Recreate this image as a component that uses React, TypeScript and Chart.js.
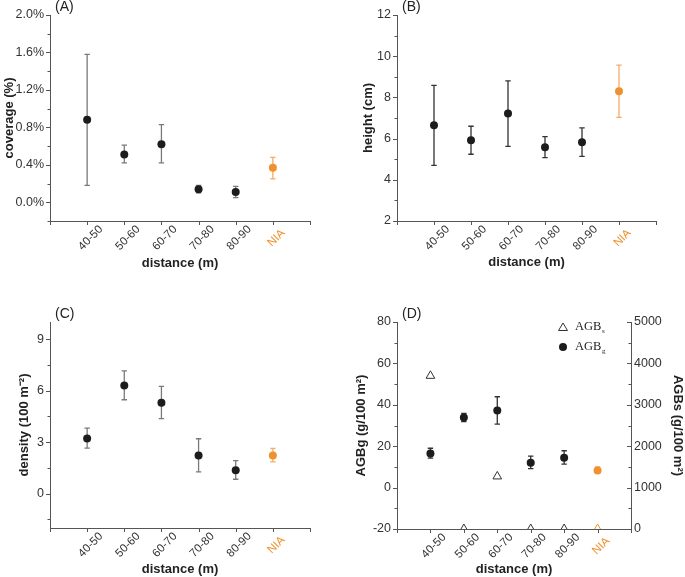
import { useEffect, useRef } from 'react';
import { Chart, registerables } from 'chart.js';

Chart.register(...registerables);

// ---------- data ----------
const categories = ['40-50', '50-60', '60-70', '70-80', '80-90', 'NIA'];

const coverageMean = [0.88, 0.51, 0.62, 0.14, 0.11, 0.37];
const coverageLow = [0.18, 0.42, 0.42, 0.1, 0.05, 0.25];
const coverageHigh = [1.58, 0.61, 0.83, 0.18, 0.17, 0.48];
const coverageTicks = [0, 0.4, 0.8, 1.2, 1.6, 2.0];

const heightMean = [6.65, 5.92, 7.22, 5.58, 5.82, 8.3];
const heightLow = [4.7, 5.24, 5.62, 5.08, 5.14, 7.03];
const heightHigh = [8.58, 6.6, 8.8, 6.1, 6.52, 9.57];
const heightTicks = [2, 4, 6, 8, 10, 12];

const densityMean = [3.22, 6.3, 5.3, 2.22, 1.37, 2.23];
const densityLow = [2.65, 5.47, 4.37, 1.27, 0.84, 1.85];
const densityHigh = [3.82, 7.15, 6.25, 3.2, 1.93, 2.64];
const densityTicks = [0, 3, 6, 9];

const agbgMean = [16.5, 33.9, 37.3, 12.0, 14.4, 8.3];
const agbgLow = [14.2, 31.9, 30.7, 9.2, 11.3, 7.0];
const agbgHigh = [19.0, 35.9, 43.9, 15.2, 17.8, 10.0];
const agbgTicks = [-20, 0, 20, 40, 60, 80];

const agbsValues = [3700, 0, 1270, 0, 0, 0];
const agbsTicks = [0, 1000, 2000, 3000, 4000, 5000];

// ---------- styles ----------
const FONT = '"Liberation Sans", Arial, sans-serif';
const SERIF = '"Liberation Serif", "Times New Roman", serif';
const DARK = '#1c1c1c';
const ORANGE = '#f0912f';
const ORANGE_LIGHT = '#f4ad6a';
const AXIS = '#555555';
const TEXT = '#222222';

const xPositions = categories.map((_, i) => i + 1);
const pointColors = categories.map((c) => (c === 'NIA' ? ORANGE : DARK));

type Bars = { mean: number[]; low: number[]; high: number[]; color: string; yAxisID: string };

function errorBarsPlugin(bars: Bars) {
  return {
    id: 'errorBars',
    beforeDatasetsDraw(chart: any) {
      const ctx = chart.ctx;
      const xs = chart.scales.x;
      const ys = chart.scales[bars.yAxisID];
      ctx.save();
      ctx.lineWidth = 1.3;
      bars.low.forEach((lo: number, i: number) => {
        const x = xs.getPixelForValue(xPositions[i]);
        const y1 = ys.getPixelForValue(lo);
        const y2 = ys.getPixelForValue(bars.high[i]);
        ctx.strokeStyle = categories[i] === 'NIA' ? ORANGE_LIGHT : bars.color;
        ctx.beginPath();
        ctx.moveTo(x, y1);
        ctx.lineTo(x, y2);
        ctx.moveTo(x - 2.7, y1);
        ctx.lineTo(x + 2.7, y1);
        ctx.moveTo(x - 2.7, y2);
        ctx.lineTo(x + 2.7, y2);
        ctx.stroke();
      });
      ctx.restore();
    },
  };
}

type AxisMarks = { [id: string]: { minorStep?: number; major: number; minor: number } };

function tickMarksPlugin(spec: AxisMarks) {
  return {
    id: 'tickMarks',
    afterDraw(chart: any) {
      const ctx = chart.ctx;
      const area = chart.chartArea;
      ctx.save();
      ctx.strokeStyle = AXIS;
      ctx.lineWidth = 1;
      Object.keys(spec).forEach((id) => {
        const s = chart.scales[id];
        if (!s) return;
        const sp = spec[id];
        const majors: number[] = s.ticks.map((t: any) => t.value);
        const minors: number[] = [];
        if (sp.minorStep) {
          const k0 = Math.ceil(s.min / sp.minorStep - 1e-9);
          const k1 = Math.floor(s.max / sp.minorStep + 1e-9);
          for (let k = k0; k <= k1; k++) {
            const v = k * sp.minorStep;
            if (!majors.some((m) => Math.abs(m - v) < 1e-6)) minors.push(v);
          }
        }
        const draw = (v: number, len: number) => {
          const p = Math.round(s.getPixelForValue(v)) + 0.5;
          ctx.beginPath();
          if (s.axis === 'x') {
            const y = area.bottom;
            ctx.moveTo(p, y);
            ctx.lineTo(p, y + len);
          } else if (s.position === 'left') {
            const x = area.left;
            ctx.moveTo(x, p);
            ctx.lineTo(x - len, p);
          } else {
            const x = area.right;
            ctx.moveTo(x, p);
            ctx.lineTo(x - len, p);
          }
          ctx.stroke();
        };
        majors.forEach((v) => draw(v, sp.major));
        minors.forEach((v) => draw(v, sp.minor));
      });
      ctx.restore();
    },
  };
}

function labelsPlugin(panelLabel: string) {
  return {
    id: 'labels',
    afterDraw(chart: any) {
      const ctx = chart.ctx;
      const area = chart.chartArea;
      const xs = chart.scales.x;
      ctx.save();
      // rotated category labels
      ctx.font = `11.5px ${FONT}`;
      ctx.textAlign = 'center';
      ctx.textBaseline = 'middle';
      categories.forEach((c, i) => {
        const px = xs.getPixelForValue(xPositions[i]);
        ctx.save();
        ctx.translate(px + 3.5, area.bottom + 17);
        ctx.rotate(-Math.PI / 4);
        ctx.fillStyle = c === 'NIA' ? ORANGE : '#333333';
        ctx.fillText(c, 0, 0);
        ctx.restore();
      });
      // panel label
      ctx.font = `14px ${FONT}`;
      ctx.textAlign = 'left';
      ctx.fillStyle = TEXT;
      ctx.fillText(panelLabel, area.left + 5, area.top - 8);
      ctx.restore();
    },
  };
}

function legendPlugin() {
  return {
    id: 'agbLegend',
    afterDraw(chart: any) {
      const ctx = chart.ctx;
      const area = chart.chartArea;
      const mx = area.left + 166;
      const y1 = area.top + 5;
      const y2 = area.top + 25;
      ctx.save();
      // triangle
      ctx.strokeStyle = '#333333';
      ctx.lineWidth = 1;
      ctx.beginPath();
      ctx.moveTo(mx, y1 - 4);
      ctx.lineTo(mx + 4.5, y1 + 3.5);
      ctx.lineTo(mx - 4.5, y1 + 3.5);
      ctx.closePath();
      ctx.stroke();
      // circle
      ctx.fillStyle = DARK;
      ctx.beginPath();
      ctx.arc(mx, y2, 4, 0, Math.PI * 2);
      ctx.fill();
      // text
      ctx.fillStyle = TEXT;
      ctx.textBaseline = 'middle';
      ctx.textAlign = 'left';
      const tx = mx + 12;
      ctx.font = `12.5px ${SERIF}`;
      const w = ctx.measureText('AGB').width;
      ctx.fillText('AGB', tx, y1);
      ctx.fillText('AGB', tx, y2);
      ctx.font = `7px ${SERIF}`;
      ctx.fillText('s', tx + w + 0.5, y1 + 4);
      ctx.fillText('g', tx + w + 0.5, y2 + 4);
      ctx.restore();
    },
  };
}

type PanelSpec = {
  key: string;
  label: string;
  left: number;
  top: number;
  w: number;
  h: number;
  plot: { l: number; r: number; t: number; b: number };
  yTitle: string;
  yTitlePad: number;
  xTitlePad: number;
  yMin: number;
  yMax: number;
  yTicks: number[];
  yMinor: number;
  yFormat: (v: number) => string;
  mean: number[];
  low: number[];
  high: number[];
  barColor: string;
  dual?: boolean;
};

const panels: PanelSpec[] = [
  {
    key: 'A', label: '(A)', left: 0, top: 0, w: 340, h: 290,
    plot: { l: 50, r: 310, t: 15, b: 221 },
    yTitle: 'coverage (%)', yTitlePad: 2, xTitlePad: 19,
    yMin: -0.2, yMax: 2.0, yTicks: coverageTicks, yMinor: 0.2,
    yFormat: (v) => `${v.toFixed(1)}%`,
    mean: coverageMean, low: coverageLow, high: coverageHigh, barColor: '#7a7a7a',
  },
  {
    key: 'B', label: '(B)', left: 340, top: 0, w: 345, h: 290,
    plot: { l: 57, r: 316, t: 15, b: 221 },
    yTitle: 'height (cm)', yTitlePad: 21, xTitlePad: 20,
    yMin: 2, yMax: 12, yTicks: heightTicks, yMinor: 1,
    yFormat: (v) => `${v}`,
    mean: heightMean, low: heightLow, high: heightHigh, barColor: '#333333',
  },
  {
    key: 'C', label: '(C)', left: 0, top: 290, w: 340, h: 287,
    plot: { l: 50, r: 310, t: 32, b: 238 },
    yTitle: 'density (100 m⁻²)', yTitlePad: 17, xTitlePad: 0,
    yMin: -2, yMax: 10, yTicks: densityTicks, yMinor: 1.5,
    yFormat: (v) => `${v}`,
    mean: densityMean, low: densityLow, high: densityHigh, barColor: '#7a7a7a',
  },
  {
    key: 'D', label: '(D)', left: 340, top: 290, w: 345, h: 287,
    plot: { l: 57, r: 291, t: 32, b: 239 },
    yTitle: 'AGBg (g/100 m²)', yTitlePad: 14, xTitlePad: 0,
    yMin: -20, yMax: 80, yTicks: agbgTicks, yMinor: 10,
    yFormat: (v) => `${v}`,
    mean: agbgMean, low: agbgLow, high: agbgHigh, barColor: '#333333',
    dual: true,
  },
];

function buildConfig(p: PanelSpec): any {
  const titleFont = { family: FONT, size: 13, weight: 'bold' as const };
  const tickFont = { family: FONT, size: 12.5 };
  const datasets: any[] = [];
  if (p.dual) {
    datasets.push({
      type: 'scatter',
      label: 'AGBs',
      yAxisID: 'y2',
      data: xPositions.map((x, i) => ({ x, y: agbsValues[i] })),
      pointStyle: 'triangle',
      pointRadius: 5,
      pointBackgroundColor: 'rgba(255,255,255,0)',
      pointBorderColor: categories.map((c) => (c === 'NIA' ? ORANGE : '#333333')),
      pointBorderWidth: 1,
      clip: 0,
    });
  }
  datasets.push({
    type: 'scatter',
    label: 'mean',
    yAxisID: 'y',
    data: xPositions.map((x, i) => ({ x, y: p.mean[i] })),
    pointRadius: 4,
    pointBackgroundColor: pointColors,
    pointBorderColor: pointColors,
    pointBorderWidth: 0,
    clip: false,
  });

  const scales: any = {
    x: {
      type: 'linear',
      min: 0,
      max: 7,
      ticks: { stepSize: 1, display: false },
      grid: { display: false, drawTicks: false },
      border: { display: true, color: AXIS, width: 1 },
      title: {
        display: true, text: 'distance (m)', font: titleFont, color: TEXT,
        padding: { top: 0, bottom: p.xTitlePad },
      },
      afterFit: (s: any) => { s.height = p.h - p.plot.b; },
    },
    y: {
      type: 'linear',
      position: 'left',
      min: p.yMin,
      max: p.yMax,
      afterBuildTicks: (s: any) => { s.ticks = p.yTicks.map((v) => ({ value: v })); },
      ticks: { font: tickFont, color: '#333333', padding: 6, callback: (v: any) => p.yFormat(Number(v)), autoSkip: false },
      grid: { display: false, drawTicks: false },
      border: { display: true, color: AXIS, width: 1 },
      title: {
        display: true, text: p.yTitle, font: titleFont, color: TEXT,
        padding: { top: p.yTitlePad, bottom: 0 },
      },
      afterFit: (s: any) => { s.width = p.plot.l; },
    },
  };
  const marks: AxisMarks = {
    x: { major: 4, minor: 2 },
    y: { minorStep: p.yMinor, major: 4, minor: 2.5 },
  };
  if (p.dual) {
    scales.y2 = {
      type: 'linear',
      position: 'right',
      min: 0,
      max: 5000,
      afterBuildTicks: (s: any) => { s.ticks = agbsTicks.map((v) => ({ value: v })); },
      ticks: { font: tickFont, color: '#333333', padding: 3, autoSkip: false, callback: (v: any) => `${v}` },
      grid: { display: false, drawTicks: false },
      border: { display: true, color: AXIS, width: 1 },
      title: {
        display: true, text: 'AGBs (g/100 m²)', font: titleFont, color: TEXT,
        padding: { top: 0, bottom: 0 },
      },
      afterFit: (s: any) => { s.width = p.w - p.plot.r; },
    };
    marks.y2 = { minorStep: 500, major: 4, minor: 2.5 };
  }

  const plugins: any[] = [
    errorBarsPlugin({ mean: p.mean, low: p.low, high: p.high, color: p.barColor, yAxisID: 'y' }),
    tickMarksPlugin(marks),
    labelsPlugin(p.label),
  ];
  if (p.dual) plugins.push(legendPlugin());

  return {
    type: 'scatter',
    data: { datasets },
    options: {
      animation: false,
      responsive: false,
      maintainAspectRatio: false,
      layout: {
        padding: { top: p.plot.t, right: p.dual ? 0 : p.w - p.plot.r, bottom: 0, left: 0 },
      },
      plugins: { legend: { display: false }, tooltip: { enabled: false } },
      scales,
    },
    plugins,
  };
}

function Panel({ p }: { p: PanelSpec }) {
  const ref = useRef<HTMLCanvasElement>(null);
  useEffect(() => {
    if (!ref.current) return;
    const chart = new Chart(ref.current, buildConfig(p));
    return () => chart.destroy();
  }, [p]);
  return (
    <canvas
      ref={ref}
      width={p.w}
      height={p.h}
      style={{ position: 'absolute', left: p.left, top: p.top, width: p.w, height: p.h }}
    />
  );
}

export default function App() {
  return (
    <div style={{ position: 'absolute', left: 0, top: 0, width: 685, height: 577, background: '#ffffff', overflow: 'hidden' }}>
      {panels.map((p) => (
        <Panel key={p.key} p={p} />
      ))}
    </div>
  );
}
